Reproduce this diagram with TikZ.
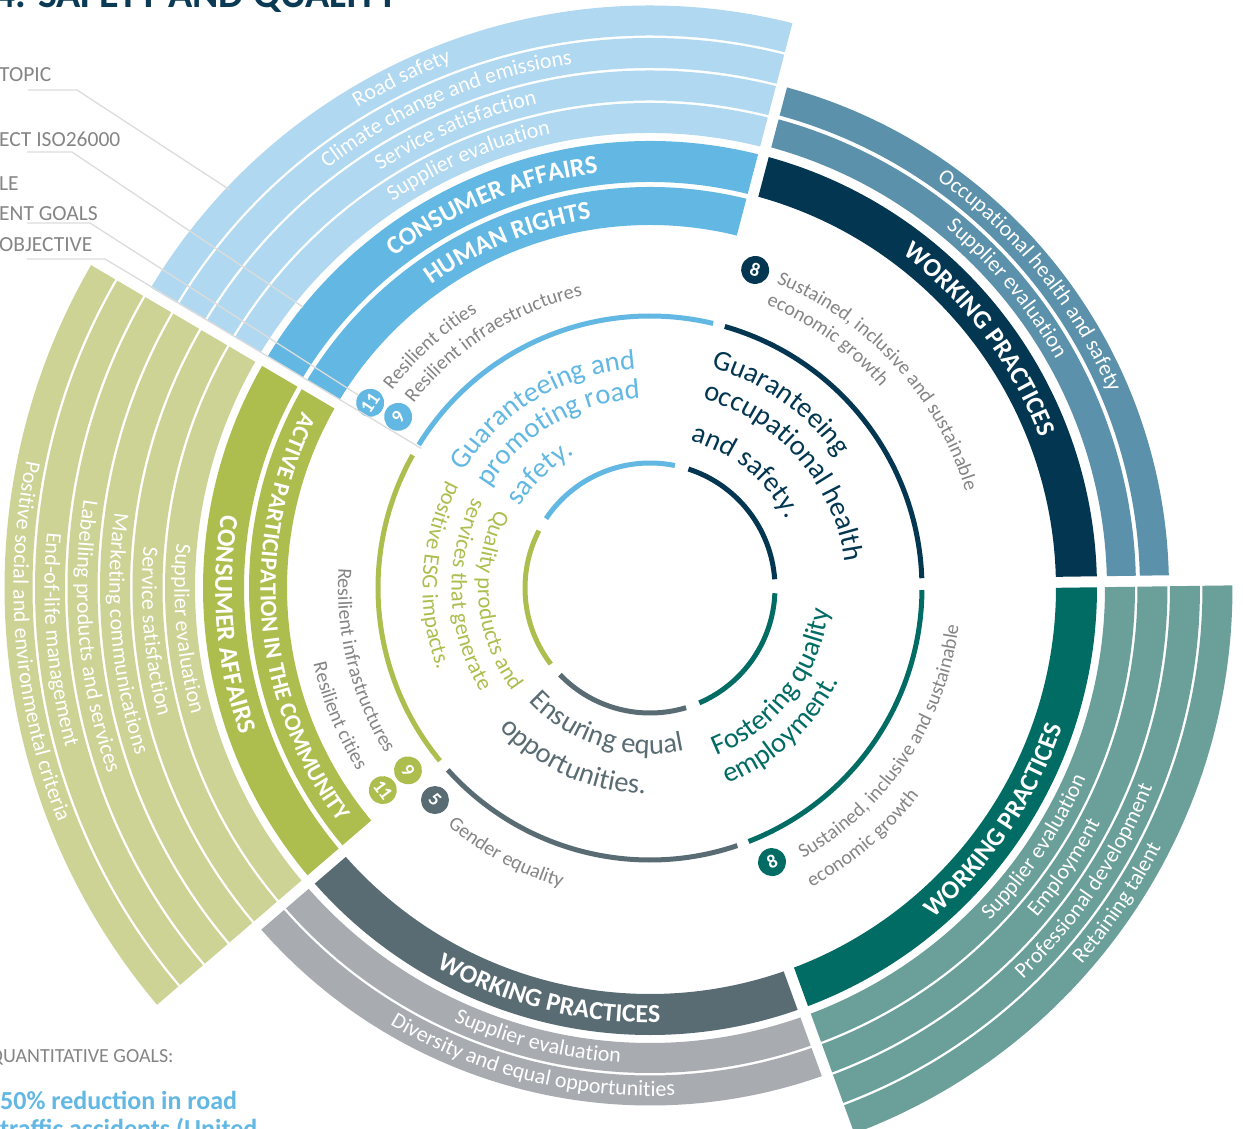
\documentclass[tikz,border=0pt]{standalone}
\usepackage{fontspec}
\setmainfont{Carlito}
\usetikzlibrary{decorations.text}
\definecolor{lblue}{HTML}{B0D8F0}
\definecolor{mblue}{HTML}{62B8E3}
\definecolor{navyc}{HTML}{023651}
\definecolor{steel}{HTML}{5B91AA}
\definecolor{dteal}{HTML}{006C64}
\definecolor{lteal}{HTML}{6B9F99}
\definecolor{dgray}{HTML}{5A6C73}
\definecolor{lgray}{HTML}{A8ABB0}
\definecolor{ogreen}{HTML}{ADBE4F}
\definecolor{lgreen}{HTML}{CDD295}
\definecolor{sdgtext}{HTML}{858585}
\definecolor{legline}{HTML}{DCDCDC}
\definecolor{titlec}{HTML}{0B3A55}

\newcommand{\bandseg}[5]{%
  \pgfmathsetmacro{\myGi}{asin(5.5/#3)}%
  \pgfmathsetmacro{\myGo}{asin(5.5/#4)}%
  \pgfmathsetmacro{\myAis}{#1+\myGi}%
  \pgfmathsetmacro{\myAie}{#2-\myGi}%
  \pgfmathsetmacro{\myAos}{#1+\myGo}%
  \pgfmathsetmacro{\myAoe}{#2-\myGo}%
  \fill[#5] (\myAos:#4pt) arc[start angle=\myAos, end angle=\myAoe, radius=#4pt]
     -- (\myAie:#3pt) arc[start angle=\myAie, end angle=\myAis, radius=#3pt] -- cycle;
}
\newcommand{\ringarc}[5]{%
  \pgfmathsetmacro{\myG}{asin(#5/#3)}%
  \pgfmathsetmacro{\myS}{#1+\myG}%
  \pgfmathsetmacro{\myE}{#2-\myG}%
  \draw[#4, line width=5pt] (\myS:#3pt) arc[start angle=\myS, end angle=\myE, radius=#3pt];
}
\newcommand{\arctext}[6]{%
  \path[decorate, decoration={text along path, text align=#4, text color=#5, text={#6}}]
    (#1:#3pt) arc[start angle=#1, end angle=#2, radius=#3pt];
}
\newcommand{\fBand}{\fontsize{26}{26}\selectfont\bfseries}
\newcommand{\fBandS}{\fontsize{23.5}{23.5}\selectfont\bfseries}
\newcommand{\fLight}{\fontsize{22}{22}\selectfont}
\newcommand{\fSdg}{\fontsize{20}{20}\selectfont}
\newcommand{\fInner}{\fontsize{28.5}{28.5}\selectfont}
\newcommand{\fGreen}{\fontsize{22.5}{22.5}\selectfont}

\tikzset{
  sdg/.style={circle, minimum size=28pt, inner sep=0pt, text=white, font=\fontsize{19}{19}\selectfont\bfseries},
  leg/.style={legline, line width=1.3pt},
  legtext/.style={anchor=base west, inner sep=0pt, font=\fontsize{21.5}{21.5}\selectfont, text=sdgtext}
}

\begin{document}
\begin{tikzpicture}[x=1pt, y=1pt]
\useasboundingbox (-650,-540) rectangle (593,588);
\fill[white] (-650,-540) rectangle (593,588);

% ---------------- bands ----------------
% blue
\bandseg{75.3}{149.5}{363}{401}{mblue}
\bandseg{75.3}{149.5}{406}{447}{mblue}
\bandseg{75.3}{149.5}{455}{485}{lblue}
\bandseg{75.3}{149.5}{487.5}{517.5}{lblue}
\bandseg{75.3}{149.5}{520}{550}{lblue}
\bandseg{75.3}{149.5}{552.5}{582.5}{lblue}
% navy
\bandseg{0.8}{75.3}{406}{447}{navyc}
\bandseg{0.8}{75.3}{457}{486}{steel}
\bandseg{0.8}{75.3}{490}{519}{steel}
% teal
\bandseg{-70}{0.8}{406}{447}{dteal}
\bandseg{-70}{0.8}{455}{485}{lteal}
\bandseg{-70}{0.8}{487.5}{517.5}{lteal}
\bandseg{-70}{0.8}{520}{550}{lteal}
\bandseg{-70}{0.8}{552.5}{582.5}{lteal}
% gray
\bandseg{-139.3}{-70}{406}{447}{dgray}
\bandseg{-139.3}{-70}{455}{485}{lgray}
\bandseg{-139.3}{-70}{487.5}{517.5}{lgray}
% green
\bandseg{149.5}{220.7}{363}{401}{ogreen}
\bandseg{149.5}{220.7}{406}{447}{ogreen}
\bandseg{149.5}{220.7}{455}{485}{lgreen}
\bandseg{149.5}{220.7}{487.5}{517.5}{lgreen}
\bandseg{149.5}{220.7}{520}{550}{lgreen}
\bandseg{149.5}{220.7}{552.5}{582.5}{lgreen}
\bandseg{149.5}{220.7}{585}{615}{lgreen}
\bandseg{149.5}{220.7}{617.5}{645.5}{lgreen}

% ---------------- rings ----------------
\ringarc{75.3}{149.5}{272}{mblue}{6}
\ringarc{0.8}{75.3}{272}{navyc}{6}
\ringarc{-70}{0.8}{272}{dteal}{6}
\ringarc{-139.3}{-70}{272}{dgray}{6}
\ringarc{149.5}{220.7}{272}{ogreen}{6}
\ringarc{75.3}{149.5}{125}{mblue}{7}
\ringarc{0.8}{75.3}{125}{navyc}{7}
\ringarc{-70}{0.8}{125}{dteal}{7}
\ringarc{-139.3}{-70}{125}{dgray}{7}
\ringarc{149.5}{220.7}{125}{ogreen}{7}

% ---------------- band labels ----------------
\arctext{172.4}{52.4}{373.6}{center}{white}{|\fBand|HUMAN RIGHTS}
\arctext{172.4}{52.4}{418.2}{center}{white}{|\fBand|CONSUMER AFFAIRS}
\arctext{173}{53}{464.5}{center}{white}{|\fLight|Supplier evaluation}
\arctext{173}{53}{497}{center}{white}{|\fLight|Service satisfaction}
\arctext{173}{53}{529.5}{center}{white}{|\fLight|Climate change and emissions}
\arctext{176}{56}{562}{center}{white}{|\fLight|Road safety}
\arctext{82}{-8}{418.2}{center}{white}{|\fBand|WORKING PRACTICES}
\arctext{85}{-5}{466}{center}{white}{|\fLight|Supplier evaluation}
\arctext{84}{-6}{499}{center}{white}{|\fLight|Occupational health and safety}
\arctext{-79}{11}{434.8}{center}{white}{|\fBand|WORKING PRACTICES}
\arctext{-79}{11}{475.5}{center}{white}{|\fLight|Supplier evaluation}
\arctext{-79}{11}{508}{center}{white}{|\fLight|Employment}
\arctext{-79}{11}{540.5}{center}{white}{|\fLight|Professional development}
\arctext{-79}{11}{573}{center}{white}{|\fLight|Retaining talent}
\arctext{-149}{-59}{434.8}{center}{white}{|\fBand|WORKING PRACTICES}
\arctext{-149}{-59}{475.5}{center}{white}{|\fLight|Supplier evaluation}
\arctext{-149}{-59}{508}{center}{white}{|\fLight|Diversity and equal opportunities}
\arctext{125}{245}{389.5}{center}{white}{|\fBandS|ACTIVE PARTICIPATION IN THE COMMUNITY}
\arctext{125}{245}{434.8}{center}{white}{|\fBand|CONSUMER AFFAIRS}
\arctext{125}{245}{475.5}{center}{white}{|\fLight|Supplier evaluation}
\arctext{125}{245}{508}{center}{white}{|\fLight|Service satisfaction}
\arctext{125}{245}{540.5}{center}{white}{|\fLight|Marketing communications}
\arctext{125}{245}{573}{center}{white}{|\fLight|Labelling products and services}
\arctext{125}{245}{605.5}{center}{white}{|\fLight|End-of-life management}
\arctext{125}{245}{636.5}{center}{white}{|\fLight|Positive social and environmental criteria}

% ---------------- SDG labels ----------------
\arctext{142.5}{60}{325}{left}{sdgtext}{|\fSdg|Resilient cities}
\arctext{142}{60}{300}{left}{sdgtext}{|\fSdg|Resilient infraestructures}
\arctext{67.5}{-20}{330}{left}{sdgtext}{|\fSdg|Sustained{,} inclusive and sustainable}
\arctext{67.7}{-20}{306}{left}{sdgtext}{|\fSdg|economic growth}
\arctext{-60.5}{30}{311}{left}{sdgtext}{|\fSdg|Sustained{,} inclusive and sustainable}
\arctext{-61.6}{30}{340}{left}{sdgtext}{|\fSdg|economic growth}
\arctext{-130.5}{-60}{312}{left}{sdgtext}{|\fSdg|Gender equality}
\arctext{140}{212}{312}{right}{sdgtext}{|\fSdg|Resilient infrastructures}
\arctext{140}{212}{345}{right}{sdgtext}{|\fSdg|Resilient cities}

% ---------------- inner texts ----------------
\arctext{148}{40}{219.6}{left}{mblue}{|\fInner|Guaranteeing and}
\arctext{148}{40}{189.6}{left}{mblue}{|\fInner|promoting road}
\arctext{148}{40}{153.6}{left}{mblue}{|\fInner|safety.}
\arctext{74.5}{-40}{228.6}{left}{navyc}{|\fInner|Guaranteeing}
\arctext{74.5}{-40}{196.6}{left}{navyc}{|\fInner|occupational health}
\arctext{74.5}{-40}{152.6}{left}{navyc}{|\fInner|and safety.}
\arctext{-68.5}{40}{180.4}{left}{dteal}{|\fInner|Fostering quality}
\arctext{-68.5}{40}{210.4}{left}{dteal}{|\fInner|employment.}
\arctext{-137}{-30}{166}{left}{dgray}{|\fInner|Ensuring equal}
\arctext{-137}{-30}{206}{left}{dgray}{|\fInner|opportunities.}
\arctext{153}{260}{172}{left}{ogreen}{|\fGreen|Quality products and}
\arctext{153}{260}{198.5}{left}{ogreen}{|\fGreen|services that generate}
\arctext{152}{260}{227.5}{left}{ogreen}{|\fGreen|positive ESG impacts.}

% ---------------- SDG circles ----------------
\node[sdg, fill=mblue, rotate=56] (bc11) at (146.5:335.6pt) {11};
\node[sdg, fill=mblue, rotate=56] (bc9) at (145.8:304.5pt) {9};
\node[sdg, fill=navyc, rotate=-18] (nc8) at (71.7:335pt) {8};
\node[sdg, fill=dteal, rotate=24] (tc8) at (-66:300pt) {8};
\node[sdg, fill=dgray, rotate=-45] (gc5) at (-135.4:302pt) {5};
\node[sdg, fill=ogreen, rotate=-53] (oc9) at (217:303pt) {9};
\node[sdg, fill=ogreen, rotate=-53] (oc11) at (217.1:335pt) {11};

% ---------------- legend ----------------
\node[anchor=base west, inner sep=0pt, font=\fontsize{40}{40}\selectfont\bfseries, text=titlec] (title) at (-655,580) {4. SAFETY AND QUALITY};
\node[legtext] (lgTopic) at (-651,506) {TOPIC};
\node[legtext] (lgIso) at (-651,441) {ECT ISO26000};
\node[legtext] (lgSus) at (-651,397) {LE};
\node[legtext] (lgGoals) at (-651,367) {ENT GOALS};
\node[legtext] (lgObj) at (-651,336) {OBJECTIVE};
\coordinate (tA) at (-622,498); \coordinate (tB) at (-573,498); \coordinate (tC) at (-420,398);
\coordinate (iA) at (-623,436); \coordinate (iB) at (-578,436); \coordinate (iC) at (-347,281);
\coordinate (gA) at (-623,365); \coordinate (gB) at (-560,365);
\coordinate (oA) at (-623,329); \coordinate (oB) at (-545,329); \coordinate (oC) at (148.6:268pt);
\draw[leg] (tA) -- (tB) -- (tC);
\draw[leg] (iA) -- (iB) -- (iC);
\draw[leg] (gA) -- (gB) -- (bc11);
\draw[leg] (oA) -- (oB) -- (oC);

\node[anchor=base west, inner sep=0pt, font=\fontsize{20}{20}\selectfont, text=sdgtext] (qg) at (-660.5,-474) {QUANTITATIVE GOALS:};
\node[anchor=base west, inner sep=0pt, font=\fontsize{26}{26}\selectfont\bfseries, text=mblue] (goalA) at (-650,-521) {50\% reduction in road};
\node[anchor=base west, inner sep=0pt, font=\fontsize{26}{26}\selectfont\bfseries, text=mblue] (goalB) at (-650,-549) {traffic accidents (United};
\end{tikzpicture}
\end{document}
